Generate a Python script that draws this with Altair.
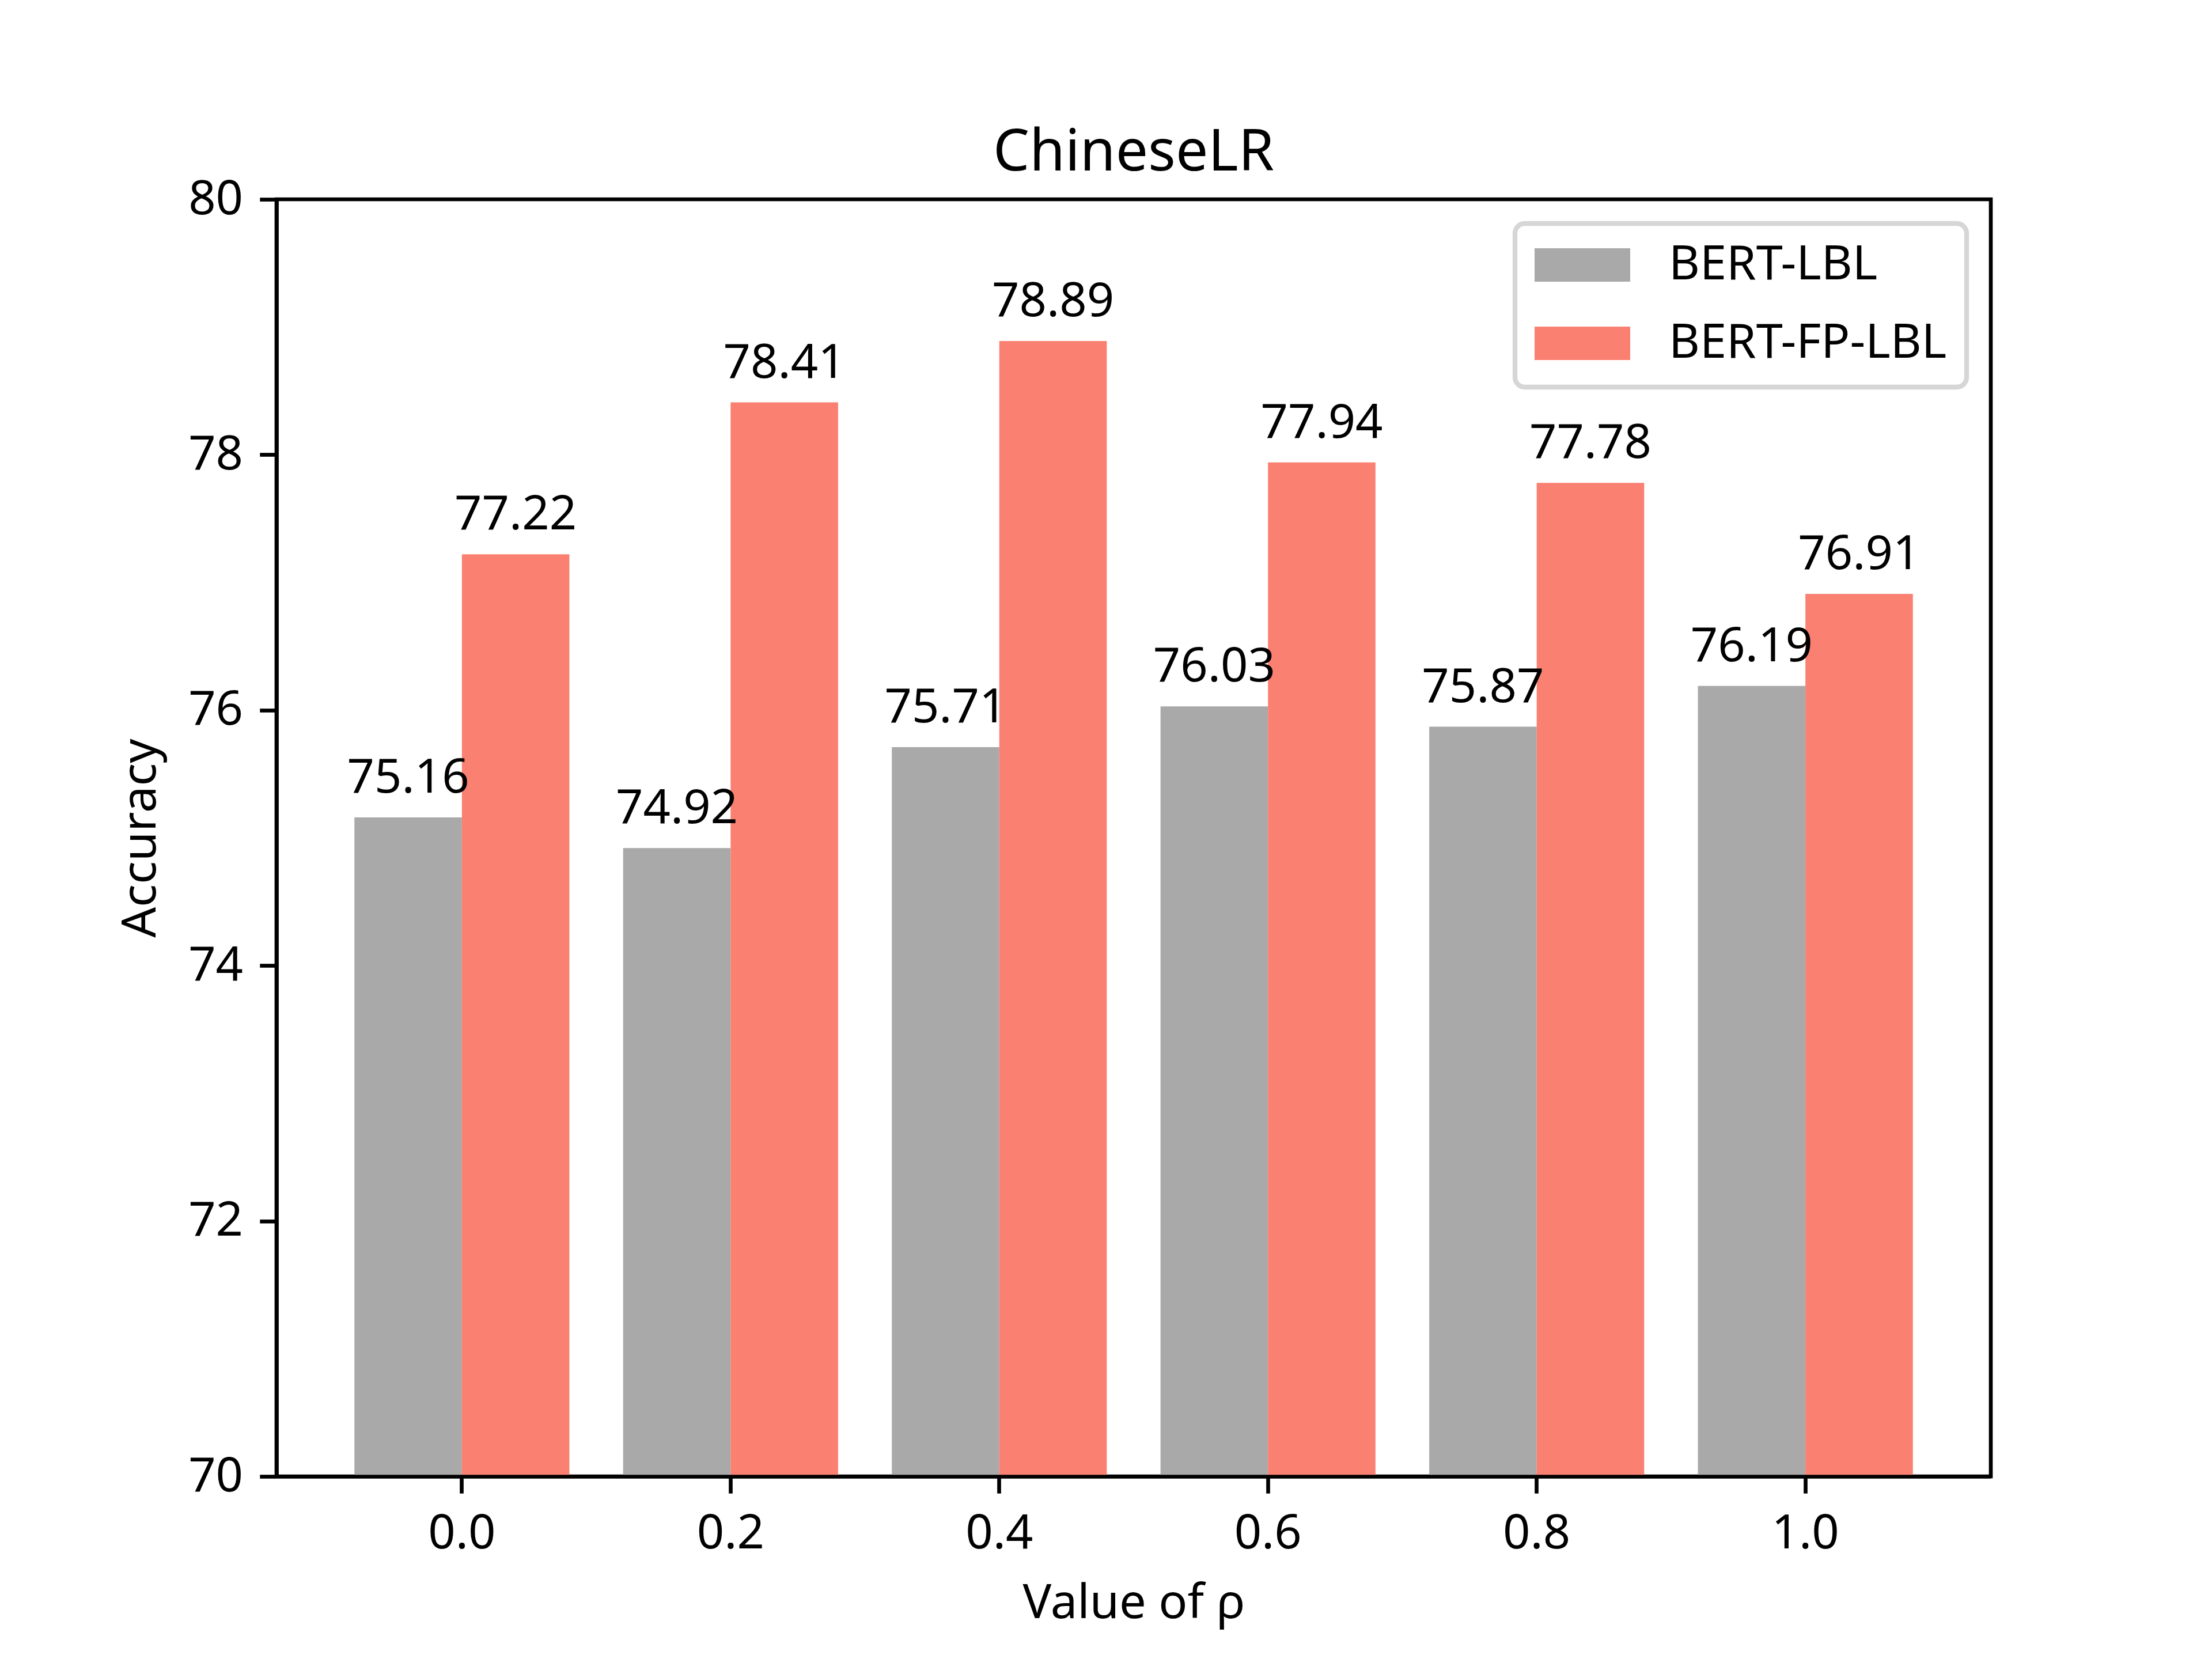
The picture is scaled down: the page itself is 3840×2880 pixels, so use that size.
import altair as alt
import pandas as pd

RHO = ["0.0", "0.2", "0.4", "0.6", "0.8", "1.0"]
MODELS = ["BERT-LBL", "BERT-FP-LBL"]
BERT_LBL = [75.16, 74.92, 75.71, 76.03, 75.87, 76.19]
BERT_FP_LBL = [77.22, 78.41, 78.89, 77.94, 77.78, 76.91]
COLORS = ["#a9a9a9", "#fa8072"]
Y_TICKS = [70, 72, 74, 76, 78, 80]

rows = []
for r, a, b in zip(RHO, BERT_LBL, BERT_FP_LBL):
    rows.append({"rho": r, "model": MODELS[0], "acc": a})
    rows.append({"rho": r, "model": MODELS[1], "acc": b})
df = pd.DataFrame(rows)

FONT = "Noto Sans"
LW = 6.67

x_enc = alt.X(
    "rho:N",
    sort=RHO,
    scale=alt.Scale(paddingInner=0.2, paddingOuter=0.29),
    axis=alt.Axis(
        title="Value of ρ",
        labelAngle=0,
        titleBaseline="alphabetic",
        titlePadding=104,
        zindex=1,
    ),
)
xoff_enc = alt.XOffset(
    "model:N", sort=MODELS, scale=alt.Scale(paddingInner=0, paddingOuter=0)
)
y_enc = alt.Y(
    "acc:Q",
    scale=alt.Scale(domain=[70, 80], nice=False, zero=False),
    axis=alt.Axis(
        values=Y_TICKS,
        format="d",
        title="Accuracy",
        titleBaseline="alphabetic",
        titlePadding=57,
        zindex=1,
    ),
)

bars = alt.Chart(df).mark_bar().encode(
    x=x_enc,
    xOffset=xoff_enc,
    y=y_enc,
    y2=alt.datum(70),
    color=alt.Color(
        "model:N",
        sort=MODELS,
        scale=alt.Scale(domain=MODELS, range=COLORS),
        legend=alt.Legend(
            title=None,
            orient="top-right",
            offset=42,
            symbolType="M-1,-0.35H1V0.35H-1Z",
            symbolSize=27556,
            symbolStrokeWidth=0,
            symbolOpacity=1,
            clipHeight=76,
            rowPadding=53,
            labelOffset=67,
            padding=34,
            labelFontSize=83,
            labelFont=FONT,
            labelColor="black",
            labelLimit=3000,
            cornerRadius=17,
            fillColor="rgba(255,255,255,0.8)",
            strokeColor="#d6d6d6",
        ),
    ),
)

labels = alt.Chart(df).mark_text(
    dy=-43, baseline="alphabetic", align="center", fontSize=83, font=FONT, color="black"
).encode(
    x=x_enc,
    xOffset=xoff_enc,
    y=y_enc,
    text=alt.Text("acc:Q", format=".2f"),
)

chart = (
    alt.layer(bars, labels)
    .properties(
        width=2976,
        height=2217,
        background="white",
        title=alt.TitleParams(
            "ChineseLR",
            fontSize=100,
            font=FONT,
            fontWeight="normal",
            color="black",
            anchor="middle",
            baseline="alphabetic",
            offset=-91,
        ),
        autosize=alt.AutoSizeParams(type="none"),
        padding={"left": 472, "top": 338, "right": 370, "bottom": 290},
    )
    .configure_view(stroke="black", strokeWidth=LW)
    .configure_axis(
        domainColor="black",
        domainWidth=LW,
        tickColor="black",
        tickWidth=LW,
        tickSize=29.2,
        labelPadding=29.2,
        labelFontSize=83,
        labelFont=FONT,
        labelColor="black",
        titleFontSize=83,
        titleFont=FONT,
        titleFontWeight="normal",
        titleColor="black",
        grid=False,
    )
    .configure_legend(strokeWidth=8.3)
)

chart.save("out.html", embed_options={"renderer": "svg", "actions": False})
